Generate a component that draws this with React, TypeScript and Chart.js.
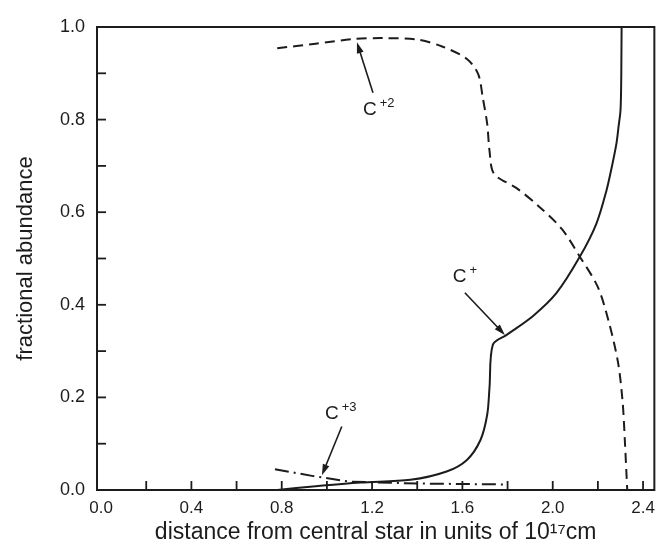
import React, { useEffect, useRef } from "react";
import { Chart, registerables } from "chart.js";

Chart.register(...registerables);

// C+2 (dashed)
const c2X = [0.78, 0.95, 1.12, 1.25, 1.40, 1.51, 1.62, 1.67, 1.69, 1.71, 1.72, 1.74, 1.84, 1.94, 2.04, 2.12, 2.20, 2.25, 2.29, 2.31, 2.32, 2.33];
const c2Y = [0.954, 0.964, 0.974, 0.976, 0.973, 0.958, 0.931, 0.898, 0.848, 0.790, 0.733, 0.683, 0.652, 0.612, 0.564, 0.504, 0.438, 0.360, 0.273, 0.187, 0.100, 0.0];

// C+ (solid)
const c1X = [0.78, 0.95, 1.15, 1.37, 1.53, 1.62, 1.68, 1.71, 1.72, 1.735, 1.796, 1.913, 2.016, 2.119, 2.193, 2.238, 2.263, 2.282, 2.292, 2.300, 2.303, 2.304, 2.305];
const c1Y = [0.0, 0.008, 0.016, 0.022, 0.040, 0.065, 0.108, 0.163, 0.221, 0.314, 0.335, 0.376, 0.425, 0.503, 0.575, 0.647, 0.701, 0.748, 0.787, 0.819, 0.874, 0.928, 1.0];

// C+3 (dash-dot)
const c3X = [0.77, 0.94, 1.10, 1.40, 1.78];
const c3Y = [0.045, 0.030, 0.018, 0.014, 0.012];

// axis labels and tick marks
const xLabels = [0.0, 0.4, 0.8, 1.2, 1.6, 2.0, 2.4];
const yLabels = [0.0, 0.2, 0.4, 0.6, 0.8, 1.0];
const xTickMarks = [0.2, 0.4, 0.6, 0.8, 1.0, 1.2, 1.4, 1.6, 1.8, 2.0, 2.2, 2.4];
const yTickMarks = [0.1, 0.2, 0.3, 0.4, 0.5, 0.6, 0.7, 0.8, 0.9];

// annotations (label + arrow), in data units
const annText = ["C", "C", "C"];
const annSup = ["+2", "+", "+3"];
const annLabelX = [1.19, 1.588, 1.022];
const annLabelY = [0.822, 0.461, 0.165];
const arrowFromX = [1.204, 1.611, 1.066];
const arrowFromY = [0.858, 0.426, 0.137];
const arrowToX = [1.133, 1.788, 0.978];
const arrowToY = [0.967, 0.335, 0.032];

const xTitle = "distance from central star in units of 10\u00B9\u2077cm";
const yTitle = "fractional abundance";

const INK = "#1c1c1c";
const FONT = "'Liberation Sans', Arial, Helvetica, sans-serif";

export default function App() {
  const ref = useRef<HTMLCanvasElement>(null);

  useEffect(() => {
    const canvas = ref.current;
    if (!canvas) return;
    const pts = (xs: number[], ys: number[]) => xs.map((x, i) => ({ x, y: ys[i] }));

    const framePlugin = {
      id: "frameAndNotes",
      afterDatasetsDraw(chart: any) {
        const { ctx, chartArea: a, scales } = chart;
        const sx = scales.x;
        const sy = scales.y;
        ctx.save();
        ctx.strokeStyle = INK;
        ctx.fillStyle = INK;
        ctx.lineWidth = 2;
        ctx.strokeRect(a.left, a.top, a.right - a.left, a.bottom - a.top);
        ctx.lineWidth = 1.8;
        yTickMarks.forEach((v) => {
          const py = sy.getPixelForValue(v);
          ctx.beginPath();
          ctx.moveTo(a.left, py);
          ctx.lineTo(a.left + 9, py);
          ctx.stroke();
        });
        xTickMarks.forEach((v) => {
          const px = sx.getPixelForValue(v);
          ctx.beginPath();
          ctx.moveTo(px, a.bottom);
          ctx.lineTo(px, a.bottom - 9);
          ctx.stroke();
        });
        // annotations
        annText.forEach((t, i) => {
          const x0 = sx.getPixelForValue(arrowFromX[i]);
          const y0 = sy.getPixelForValue(arrowFromY[i]);
          const x1 = sx.getPixelForValue(arrowToX[i]);
          const y1 = sy.getPixelForValue(arrowToY[i]);
          const ang = Math.atan2(y1 - y0, x1 - x0);
          const hl = 11;
          const hw = 3.5;
          ctx.lineWidth = 1.6;
          ctx.beginPath();
          ctx.moveTo(x0, y0);
          ctx.lineTo(x1 - Math.cos(ang) * hl * 0.8, y1 - Math.sin(ang) * hl * 0.8);
          ctx.stroke();
          ctx.beginPath();
          ctx.moveTo(x1, y1);
          ctx.lineTo(x1 - Math.cos(ang) * hl - Math.sin(ang) * hw, y1 - Math.sin(ang) * hl + Math.cos(ang) * hw);
          ctx.lineTo(x1 - Math.cos(ang) * hl + Math.sin(ang) * hw, y1 - Math.sin(ang) * hl - Math.cos(ang) * hw);
          ctx.closePath();
          ctx.fill();

          const lx = sx.getPixelForValue(annLabelX[i]);
          const ly = sy.getPixelForValue(annLabelY[i]);
          ctx.font = `19px ${FONT}`;
          ctx.textAlign = "center";
          ctx.textBaseline = "middle";
          ctx.fillText(t, lx, ly);
          const w = ctx.measureText(t).width;
          ctx.font = `13px ${FONT}`;
          ctx.textAlign = "left";
          ctx.fillText(annSup[i], lx + w / 2 + 3, ly - 6);
        });
        ctx.restore();
      },
    };

    const lineBase = {
      showLine: true,
      borderColor: INK,
      backgroundColor: INK,
      borderWidth: 2,
      pointRadius: 0,
      fill: false,
      tension: 0.3,
    };

    const chart = new Chart(canvas, {
      type: "scatter",
      data: {
        datasets: [
          { ...lineBase, label: "C+2", data: pts(c2X, c2Y), borderDash: [10, 6] },
          { ...lineBase, label: "C+", data: pts(c1X, c1Y) },
          { ...lineBase, label: "C+3", data: pts(c3X, c3Y), borderDash: [14, 5, 2, 5], tension: 0 },
        ],
      },
      options: {
        responsive: false,
        animation: false,
        layout: { padding: { top: 27, right: 6, left: 0, bottom: 0 } },
        plugins: { legend: { display: false }, tooltip: { enabled: false } },
        scales: {
          x: {
            type: "linear",
            min: -0.018,
            max: 2.45,
            grid: { display: false, drawTicks: false },
            border: { display: false },
            afterBuildTicks: (s: any) => {
              s.ticks = xLabels.map((v) => ({ value: v }));
            },
            afterFit: (s: any) => {
              s.height = 56;
            },
            ticks: {
              autoSkip: false,
              maxRotation: 0,
              padding: 8,
              color: INK,
              font: { family: FONT, size: 17 },
              callback: (v: any) => Number(v).toFixed(1),
            },
            title: {
              display: true,
              text: xTitle,
              color: INK,
              font: { family: FONT, size: 23 },
              padding: { top: 0, bottom: 0 },
            },
          },
          y: {
            type: "linear",
            min: 0,
            max: 1,
            grid: { display: false, drawTicks: false },
            border: { display: false },
            afterBuildTicks: (s: any) => {
              s.ticks = yLabels.map((v) => ({ value: v }));
            },
            afterFit: (s: any) => {
              s.width = 97;
            },
            ticks: {
              autoSkip: false,
              padding: 12,
              color: INK,
              font: { family: FONT, size: 18 },
              callback: (v: any) => Number(v).toFixed(1),
            },
            title: {
              display: true,
              text: yTitle,
              color: INK,
              font: { family: FONT, size: 22 },
              padding: { top: 13, bottom: 0 },
            },
          },
        },
      },
      plugins: [framePlugin],
    });
    return () => chart.destroy();
  }, []);

  return (
    <div style={{ position: "fixed", left: 0, top: 0, width: 663, height: 546, background: "#fff" }}>
      <canvas ref={ref} width={663} height={546} style={{ display: "block" }} />
    </div>
  );
}
